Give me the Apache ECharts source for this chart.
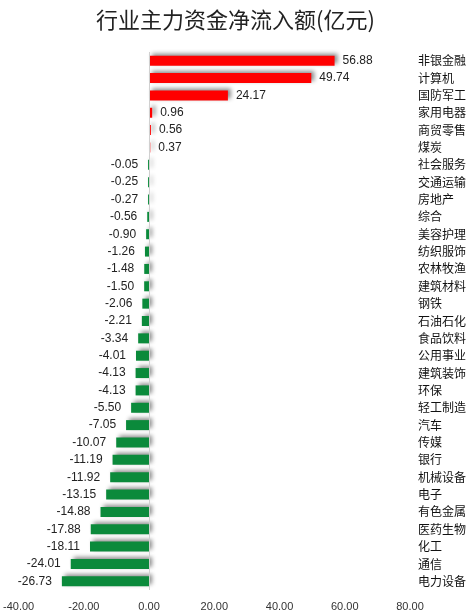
<!DOCTYPE html>
<html>
<head>
<meta charset="utf-8">
<script src="https://cdn.jsdelivr.net/npm/echarts@6/dist/echarts.min.js"></script>
<style>
  html, body { margin: 0; padding: 0; background: #fff; }
  #chart { width: 471px; height: 615px; }
</style>
</head>
<body>
<div id="chart"></div>
<script>
var industries = ['非银金融', '计算机', '国防军工', '家用电器', '商贸零售', '煤炭',
    '社会服务', '交通运输', '房地产', '综合', '美容护理', '纺织服饰', '农林牧渔',
    '建筑材料', '钢铁', '石油石化', '食品饮料', '公用事业', '建筑装饰', '环保',
    '轻工制造', '汽车', '传媒', '银行', '机械设备', '电子', '有色金属', '医药生物',
    '化工', '通信', '电力设备'];
var netInflow = [56.88, 49.74, 24.17, 0.96, 0.56, 0.37,
    -0.05, -0.25, -0.27, -0.56, -0.90, -1.26, -1.48,
    -1.50, -2.06, -2.21, -3.34, -4.01, -4.13, -4.13,
    -5.50, -7.05, -10.07, -11.19, -11.92, -13.15, -14.88, -17.88,
    -18.11, -24.01, -26.73];

document.addEventListener('DOMContentLoaded', function () {
    var myChart = echarts.init(document.getElementById('chart'));

    var barData = netInflow.map(function (v) {
        var up = v >= 0;
        return {
            value: v,
            itemStyle: { color: up ? '#ff0000' : '#0b8a3b' },
            label: { position: up ? 'right' : 'left', distance: up ? 8 : 10 }
        };
    });

    myChart.setOption({
        title: {
            text: '行业主力资金净流入额(亿元)',
            left: 'center',
            top: 4,
            textStyle: {
                fontFamily: 'Noto Sans CJK SC',
                fontWeight: 'normal',
                fontSize: 22,
                color: '#222'
            }
        },
        grid: { left: 15, right: 61, top: 52, bottom: 25 },
        xAxis: {
            type: 'value',
            min: -40,
            max: 80,
            interval: 20,
            axisLine: { show: false },
            axisTick: { show: false },
            splitLine: { show: false },
            axisLabel: {
                margin: 11,
                fontSize: 11,
                color: '#333',
                fontFamily: 'Liberation Sans',
                formatter: function (v) { return v.toFixed(2); }
            }
        },
        yAxis: {
            type: 'category',
            data: industries,
            inverse: true,
            position: 'right',
            axisLine: { show: false },
            axisTick: { show: false },
            axisLabel: {
                margin: 8,
                fontSize: 12,
                color: '#111',
                fontFamily: 'Noto Sans CJK SC'
            }
        },
        series: [{
            type: 'bar',
            data: barData,
            barWidth: 10,
            barMinHeight: 1,
            itemStyle: {
                shadowColor: 'rgba(0,0,0,0.45)',
                shadowBlur: 4,
                shadowOffsetX: 3,
                shadowOffsetY: -2
            },
            label: {
                show: true,
                fontSize: 12,
                color: '#222',
                fontFamily: 'Liberation Sans',
                formatter: function (p) { return p.value.toFixed(2); }
            },
            markLine: {
                silent: true,
                symbol: 'none',
                label: { show: false },
                lineStyle: { color: '#d0d0d0', type: 'solid', width: 1 },
                data: [{ xAxis: 0 }]
            }
        }]
    });
});
</script>
</body>
</html>
